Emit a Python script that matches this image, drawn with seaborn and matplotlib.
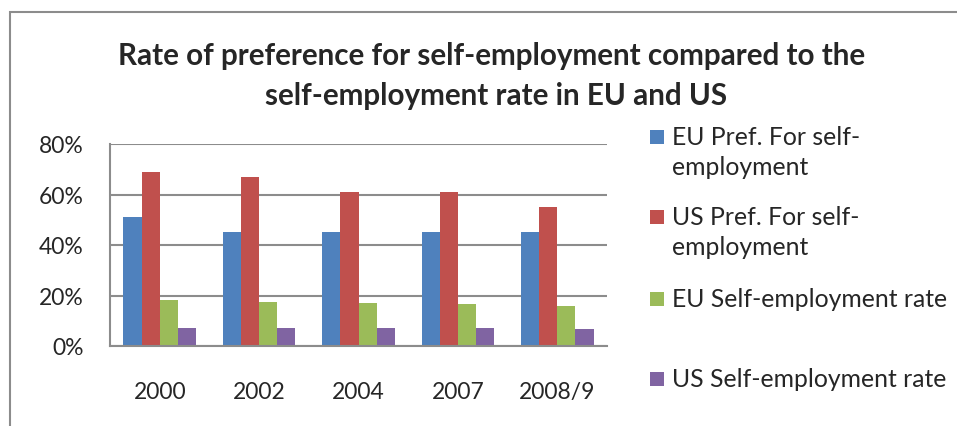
import matplotlib
matplotlib.use("Agg")
import matplotlib.pyplot as plt
from matplotlib.patches import Rectangle
from matplotlib.ticker import PercentFormatter
import pandas as pd
import seaborn as sns

# Survey years
years = ["2000", "2002", "2004", "2007", "2008/9"]

# Series values (share of population)
eu_pref = [0.51, 0.45, 0.45, 0.45, 0.45]
us_pref = [0.69, 0.67, 0.61, 0.61, 0.55]
eu_rate = [0.181, 0.173, 0.170, 0.166, 0.160]
us_rate = [0.070, 0.070, 0.073, 0.070, 0.067]

series_names = [
    "EU Pref. For self-\nemployment",
    "US Pref. For self-\nemployment",
    "EU Self-employment rate",
    "US Self-employment rate",
]
series_values = [eu_pref, us_pref, eu_rate, us_rate]
colors = ["#4F81BD", "#C0504D", "#9BBB59", "#8064A2"]

df = pd.DataFrame(
    [(y, name, v) for name, vals in zip(series_names, series_values)
     for y, v in zip(years, vals)],
    columns=["year", "series", "value"],
)

sns.set_style("white")
plt.rcParams["font.family"] = ["Lato", "DejaVu Sans"]

W, H = 957, 427
fig = plt.figure(figsize=(W / 100, H / 100), dpi=100)
fig.patch.set_facecolor("white")

# plot area in pixel terms
left, right, top, bottom = 110, 607, 145, 347
ax = fig.add_axes([left / W, 1 - bottom / H, (right - left) / W, (bottom - top) / H])

sns.barplot(
    data=df, x="year", y="value", hue="series", hue_order=series_names,
    palette=colors, width=0.73, gap=0, saturation=1, ax=ax,
    edgecolor="none", legend=False,
)

ax.set_ylim(0, 0.8)
ax.set_yticks([0, 0.2, 0.4, 0.6, 0.8])
ax.yaxis.set_major_formatter(PercentFormatter(1.0, decimals=0))
ax.set_xlabel("")
ax.set_ylabel("")
ax.tick_params(axis="both", length=0, labelsize=16.5)
ax.tick_params(axis="y", pad=19)
ax.tick_params(axis="x", pad=25)
ax.grid(axis="y", color="#8c8c8c", lw=1.5)
ax.set_axisbelow(True)
for s in ["top", "right"]:
    ax.spines[s].set_visible(False)
for s in ["left", "bottom"]:
    ax.spines[s].set_color("#8c8c8c")
    ax.spines[s].set_linewidth(1.5)

# Title
fig.text(492 / W, 1 - 56 / H, "Rate of preference for self-employment compared to the",
         ha="center", va="center", fontsize=21.3, fontweight="bold")
fig.text(496 / W, 1 - 96 / H, "self-employment rate in EU and US",
         ha="center", va="center", fontsize=21.3, fontweight="bold")

# Legend
legend_y = [138, 218, 300, 380]
for name, col, y in zip(series_names, colors, legend_y):
    fig.add_artist(Rectangle((650 / W, 1 - (y + 7) / H), 14 / W, 14 / H,
                             transform=fig.transFigure, facecolor=col,
                             edgecolor="none"))
    fig.text(672 / W, 1 - (y - 12) / H, name, ha="left", va="top",
             fontsize=17.8, linespacing=1.38)

# Chart area frame
fig.add_artist(Rectangle((10 / W, -0.5), 2.0, (1 - 13 / H) + 0.5,
                         transform=fig.transFigure, fill=False,
                         edgecolor="#8c8c8c", lw=1.5, clip_on=False))

fig.savefig("out.png", dpi=100)
